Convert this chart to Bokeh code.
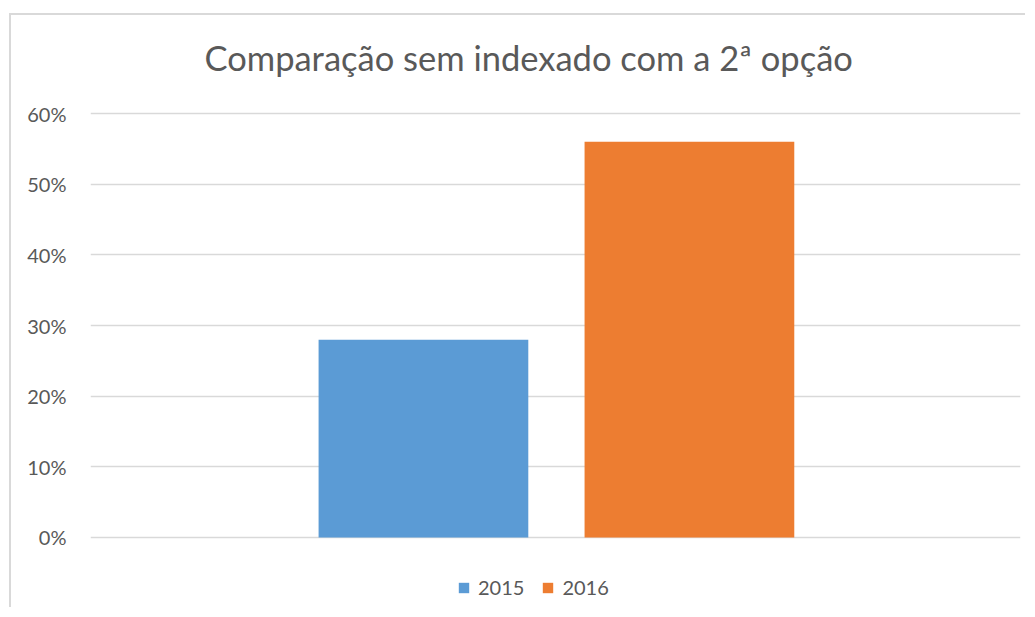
from bokeh.plotting import figure
from bokeh.models import Range1d, FactorRange, NumeralTickFormatter, Legend, LegendItem, FixedTicker, ColumnDataSource, Label
from bokeh.transform import dodge
from bokeh.embed import file_html
from bokeh.resources import INLINE

# ---- data ----
title_text = "Comparação sem indexado com a 2ª opção"
categories = ["Comparação"]
series_names = ["2015", "2016"]
values_2015 = [0.28]
values_2016 = [0.56]
y_ticks = [0.0, 0.1, 0.2, 0.3, 0.4, 0.5, 0.6]

colors = ["#5B9BD5", "#ED7D31"]
text_color = "#595959"
grid_color = "#D9D9D9"
FONT = "Lato"

source = ColumnDataSource(dict(cat=categories, s2015=values_2015, s2016=values_2016))

# frame spans the whole height: room above 60% for the title, below 0% for the legend
p = figure(
    x_range=FactorRange(factors=categories, range_padding=0),
    y_range=Range1d(-0.1019, 0.7387),
    width=1016, height=594,
    output_backend="svg", toolbar_location=None,
    min_border_left=79, min_border_right=7, min_border_top=0, min_border_bottom=0,
)
p.margin = (13, 0, 0, 9)
p.styles = {"border-left": "2px solid #D9D9D9", "border-top": "2px solid #D9D9D9"}

r1 = p.vbar(x=dodge("cat", -0.142, range=p.x_range), top="s2015", width=0.2255,
            source=source, color=colors[0], line_color=None)
r2 = p.vbar(x=dodge("cat", 0.144, range=p.x_range), top="s2016", width=0.2255,
            source=source, color=colors[1], line_color=None)

p.add_layout(Label(x=114, y=552, x_units="screen", y_units="screen", text=title_text,
                   text_font=FONT, text_font_size="34.5px", text_color=text_color,
                   text_align="left", text_baseline="alphabetic"))

p.xaxis.visible = False
p.xgrid.visible = False
p.yaxis.ticker = FixedTicker(ticks=y_ticks)
p.yaxis.formatter = NumeralTickFormatter(format="0%")
p.yaxis.axis_line_color = None
p.yaxis.major_tick_line_color = None
p.yaxis.minor_tick_line_color = None
p.yaxis.major_label_text_font = FONT
p.yaxis.major_label_text_font_size = "20px"
p.yaxis.major_label_text_color = text_color
p.yaxis.major_label_standoff = 18
p.ygrid.grid_line_color = grid_color
p.ygrid.grid_line_width = 1.5
p.outline_line_color = None

legend = Legend(
    items=[LegendItem(label=series_names[0], renderers=[r1]),
           LegendItem(label=series_names[1], renderers=[r2])],
    orientation="horizontal", location=(367, 10),
    label_text_font=FONT, label_text_font_size="20px", label_text_color=text_color,
    glyph_width=13, glyph_height=13, spacing=17, label_standoff=8,
    border_line_color=None, background_fill_alpha=0, margin=0, padding=0,
)
p.add_layout(legend, "center")

open("out.html", "w").write(file_html(p, INLINE))
